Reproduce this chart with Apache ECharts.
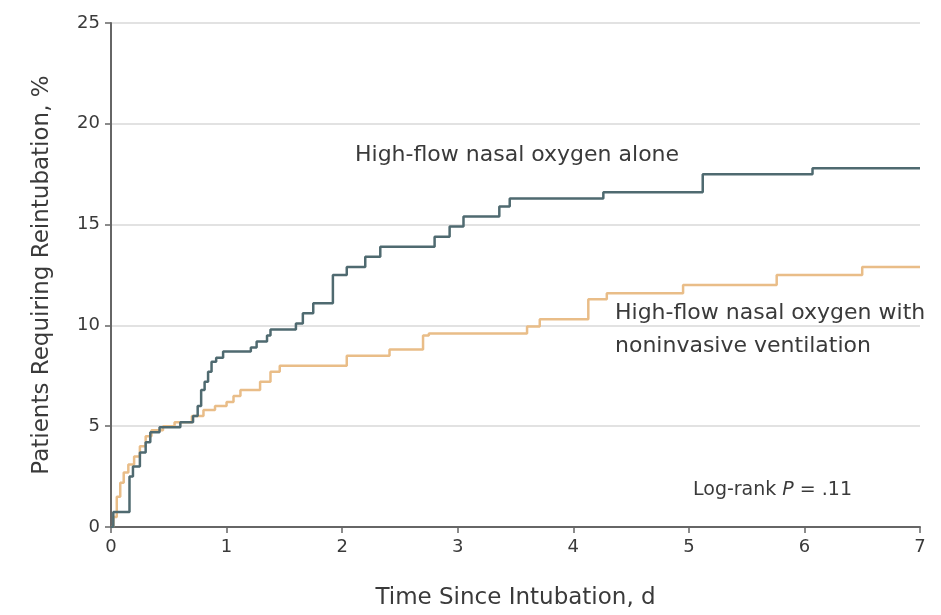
<!DOCTYPE html>
<html>
<head>
<meta charset="utf-8">
<script src="https://cdn.jsdelivr.net/npm/echarts@6/dist/echarts.min.js"></script>
<style>html,body{margin:0;padding:0;background:#fff}#c{width:941px;height:615px}</style>
</head>
<body>
<div id="c"></div>
<script>
const xTicks = [0, 1, 2, 3, 4, 5, 6, 7];
const yTicks = [0, 5, 10, 15, 20, 25];

const aloneName = 'High-flow nasal oxygen alone';
const aloneTime = [0, 0.02, 0.16, 0.19, 0.25, 0.3, 0.34, 0.42, 0.6, 0.71, 0.75, 0.78, 0.81, 0.84, 0.87, 0.91, 0.97, 1.21, 1.26, 1.35, 1.38, 1.6, 1.66, 1.75, 1.92, 2.04, 2.2, 2.33, 2.8, 2.93, 3.05, 3.36, 3.45, 4.26, 5.12, 6.07, 7.0];
const aloneValue = [0, 0.75, 2.5, 3.0, 3.7, 4.2, 4.7, 4.95, 5.2, 5.5, 6.0, 6.8, 7.2, 7.7, 8.2, 8.4, 8.7, 8.9, 9.2, 9.5, 9.8, 10.1, 10.6, 11.1, 12.5, 12.9, 13.4, 13.9, 14.4, 14.9, 15.4, 15.9, 16.3, 16.6, 17.5, 17.8, 17.8];

const nivName = 'High-flow nasal oxygen with\nnoninvasive ventilation';
const nivTime = [0, 0.02, 0.05, 0.08, 0.11, 0.15, 0.2, 0.25, 0.3, 0.35, 0.45, 0.55, 0.7, 0.8, 0.9, 1.0, 1.06, 1.12, 1.29, 1.38, 1.46, 2.04, 2.41, 2.7, 2.75, 3.6, 3.71, 4.13, 4.29, 4.95, 5.76, 6.5, 7.0];
const nivValue = [0, 0.5, 1.5, 2.2, 2.7, 3.1, 3.5, 4.0, 4.5, 4.8, 5.0, 5.2, 5.5, 5.8, 6.0, 6.2, 6.5, 6.8, 7.2, 7.7, 8.0, 8.5, 8.8, 9.5, 9.6, 9.95, 10.3, 11.3, 11.6, 12.0, 12.5, 12.9, 12.9];

const zip = (a, b) => a.map((t, i) => [t, b[i]]);
const font = '"DejaVu Sans", "Liberation Sans", sans-serif';
const txt = '#3a3a3a';

const chart = echarts.init(document.getElementById('c'), null, {renderer: 'canvas'});
chart.setOption({
  animation: false,
  backgroundColor: '#fff',
  grid: {left: 111, right: 21, top: 23, bottom: 87},
  xAxis: {
    type: 'value', min: xTicks[0], max: xTicks[xTicks.length - 1], interval: 1,
    name: 'Time Since Intubation, d', nameLocation: 'middle', nameGap: 60,
    nameTextStyle: {fontFamily: font, fontSize: 23, color: txt},
    axisLine: {show: true, lineStyle: {color: '#666', width: 2}},
    axisTick: {show: true, length: 6, lineStyle: {color: '#666', width: 1.5}},
    axisLabel: {fontFamily: font, fontSize: 18, color: txt, margin: 11},
    splitLine: {show: false}
  },
  yAxis: {
    type: 'value', min: yTicks[0], max: yTicks[yTicks.length - 1], interval: 5,
    name: 'Patients Requiring Reintubation, %', nameLocation: 'middle', nameGap: 57,
    nameTextStyle: {fontFamily: font, fontSize: 23, color: txt},
    axisLine: {show: true, lineStyle: {color: '#666', width: 2}},
    axisTick: {show: true, length: 6, lineStyle: {color: '#666', width: 1.5}},
    axisLabel: {fontFamily: font, fontSize: 18, color: txt, margin: 11},
    splitLine: {show: true, lineStyle: {color: '#e2e2e2', width: 2}}
  },
  series: [
    {
      name: nivName, type: 'line', step: 'end', showSymbol: false,
      data: zip(nivTime, nivValue),
      lineStyle: {color: '#e9bd88', width: 2.5}, z: 2
    },
    {
      name: aloneName, type: 'line', step: 'end', showSymbol: false,
      data: zip(aloneTime, aloneValue),
      lineStyle: {color: '#4f6a70', width: 2.5}, z: 3
    }
  ],
  graphic: [
    {type: 'text', left: 355, top: 144, style: {text: aloneName, font: '22px ' + font, fill: txt}},
    {type: 'text', left: 615, top: 297, style: {text: nivName, font: '22px ' + font, fill: txt, lineHeight: 33}},
    {type: 'text', left: 693, top: 481, style: {
      text: '{n|Log-rank }{i|P}{n| = .11}',
      rich: {n: {font: '19px ' + font, fill: txt}, i: {font: 'italic 19px ' + font, fill: txt}}
    }}
  ]
});
</script>
</body>
</html>
